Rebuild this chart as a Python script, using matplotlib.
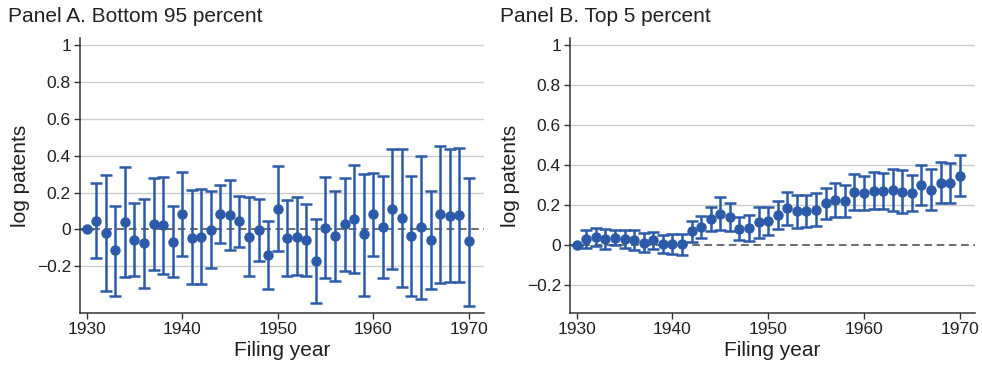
import matplotlib
matplotlib.use("Agg")
import matplotlib.pyplot as plt
import numpy as np

years = list(range(1930, 1971))

# Panel A: Bottom 95 percent
a_est = [0.0, 0.047, -0.02, -0.115, 0.038, -0.056, -0.076, 0.027, 0.022, -0.069,
         0.082, -0.045, -0.04, -0.002, 0.082, 0.08, 0.045, -0.042, -0.004, -0.14,
         0.111, -0.047, -0.04, -0.06, -0.171, 0.009, -0.038, 0.027, 0.058, -0.027,
         0.082, 0.011, 0.111, 0.062, -0.038, 0.011, -0.06, 0.082, 0.073, 0.076, -0.065]
a_hi = [0.0, 0.253, 0.296, 0.129, 0.34, 0.144, 0.164, 0.28, 0.285, 0.127,
        0.311, 0.213, 0.218, 0.207, 0.24, 0.267, 0.182, 0.176, 0.164, 0.044,
        0.345, 0.158, 0.176, 0.138, 0.055, 0.285, 0.207, 0.28, 0.349, 0.3,
        0.305, 0.289, 0.438, 0.438, 0.289, 0.398, 0.207, 0.453, 0.435, 0.44, 0.28]
a_lo = [0.0, -0.156, -0.336, -0.36, -0.262, -0.256, -0.32, -0.22, -0.244, -0.262,
        -0.145, -0.3, -0.295, -0.211, -0.073, -0.113, -0.096, -0.256, -0.171, -0.324,
        -0.118, -0.256, -0.251, -0.256, -0.398, -0.267, -0.282, -0.227, -0.235, -0.36,
        -0.147, -0.267, -0.218, -0.311, -0.365, -0.38, -0.325, -0.293, -0.287, -0.287, -0.415]

# Panel B: Top 5 percent
b_est = [0.0, 0.032, 0.04, 0.032, 0.037, 0.03, 0.025, 0.012, 0.023, 0.007,
         0.007, 0.003, 0.068, 0.092, 0.128, 0.157, 0.142, 0.082, 0.085, 0.113,
         0.118, 0.152, 0.183, 0.17, 0.17, 0.177, 0.208, 0.223, 0.22, 0.263,
         0.26, 0.268, 0.268, 0.273, 0.265, 0.26, 0.3, 0.275, 0.31, 0.31, 0.347]
b_hi = [0.0, 0.073, 0.085, 0.078, 0.073, 0.073, 0.073, 0.062, 0.065, 0.05,
        0.055, 0.055, 0.118, 0.145, 0.188, 0.24, 0.212, 0.14, 0.15, 0.188,
        0.19, 0.218, 0.263, 0.25, 0.25, 0.258, 0.283, 0.308, 0.3, 0.353,
        0.345, 0.363, 0.358, 0.38, 0.373, 0.348, 0.398, 0.378, 0.415, 0.41, 0.448]
b_lo = [0.0, -0.015, -0.005, -0.022, -0.002, -0.017, -0.025, -0.037, -0.022, -0.04,
        -0.047, -0.052, 0.017, 0.033, 0.07, 0.075, 0.07, 0.025, 0.018, 0.033,
        0.05, 0.078, 0.1, 0.085, 0.088, 0.095, 0.13, 0.14, 0.14, 0.175,
        0.175, 0.178, 0.178, 0.17, 0.162, 0.17, 0.2, 0.175, 0.21, 0.21, 0.245]

titles = ["Panel A. Bottom 95 percent", "Panel B. Top 5 percent"]
yticks = [-0.2, 0, 0.2, 0.4, 0.6, 0.8, 1]
yticklabels = ["\u22120.2", "0", "0.2", "0.4", "0.6", "0.8", "1"]
xticks = [1930, 1940, 1950, 1960, 1970]

plt.rcParams['font.family'] = ['Liberation Sans', 'DejaVu Sans']

blue = "#2b5ba8"
txt = "#231f20"
fig = plt.figure(figsize=(9.82, 3.66), dpi=100)
axA = fig.add_axes([80/982, 1-313/366, 404/982, 275/366])
axB = fig.add_axes([570/982, 1-313/366, 405/982, 275/366])

panels = [(axA, a_est, a_lo, a_hi, (-0.455, 1.04)),
          (axB, b_est, b_lo, b_hi, (-0.34, 1.035))]

for ax, est, lo, hi, ylim in panels:
    est = np.array(est); lo = np.array(lo); hi = np.array(hi)
    for t in [-0.2, 0.2, 0.4, 0.6, 0.8, 1.0]:
        ax.axhline(t, color="#cccccc", lw=1.0, zorder=0)
    ax.axhline(0, color="#444444", lw=1.1, ls=(0, (5, 3)), zorder=1)
    yerr = np.vstack([est - lo, hi - est])
    ax.errorbar(years, est, yerr=yerr, fmt='o', color=blue, ms=6.5,
                elinewidth=1.8, capsize=4.5, capthick=1.8, zorder=3)
    ax.set_xlim(1929.3, 1971.6)
    ax.set_ylim(*ylim)
    ax.set_yticks(yticks)
    ax.set_yticklabels(yticklabels)
    ax.set_xticks(xticks)
    ax.tick_params(axis='both', labelsize=12.5, colors=txt, length=4.5, width=1,
                   direction='out', pad=2)
    ax.tick_params(axis='both', color="#333333")
    for s in ['top', 'right']:
        ax.spines[s].set_visible(False)
    for s in ['left', 'bottom']:
        ax.spines[s].set_color("#333333")
        ax.spines[s].set_linewidth(1.1)
    ax.set_ylabel("log patents", fontsize=15, color=txt, labelpad=5)
    ax.set_xlabel("Filing year", fontsize=15, color=txt, labelpad=3)

fig.text(8/982, 1-17/366, titles[0], fontsize=15, color=txt, va='center', ha='left')
fig.text(500/982, 1-17/366, titles[1], fontsize=15, color=txt, va='center', ha='left')

fig.savefig("out.png", dpi=100)
